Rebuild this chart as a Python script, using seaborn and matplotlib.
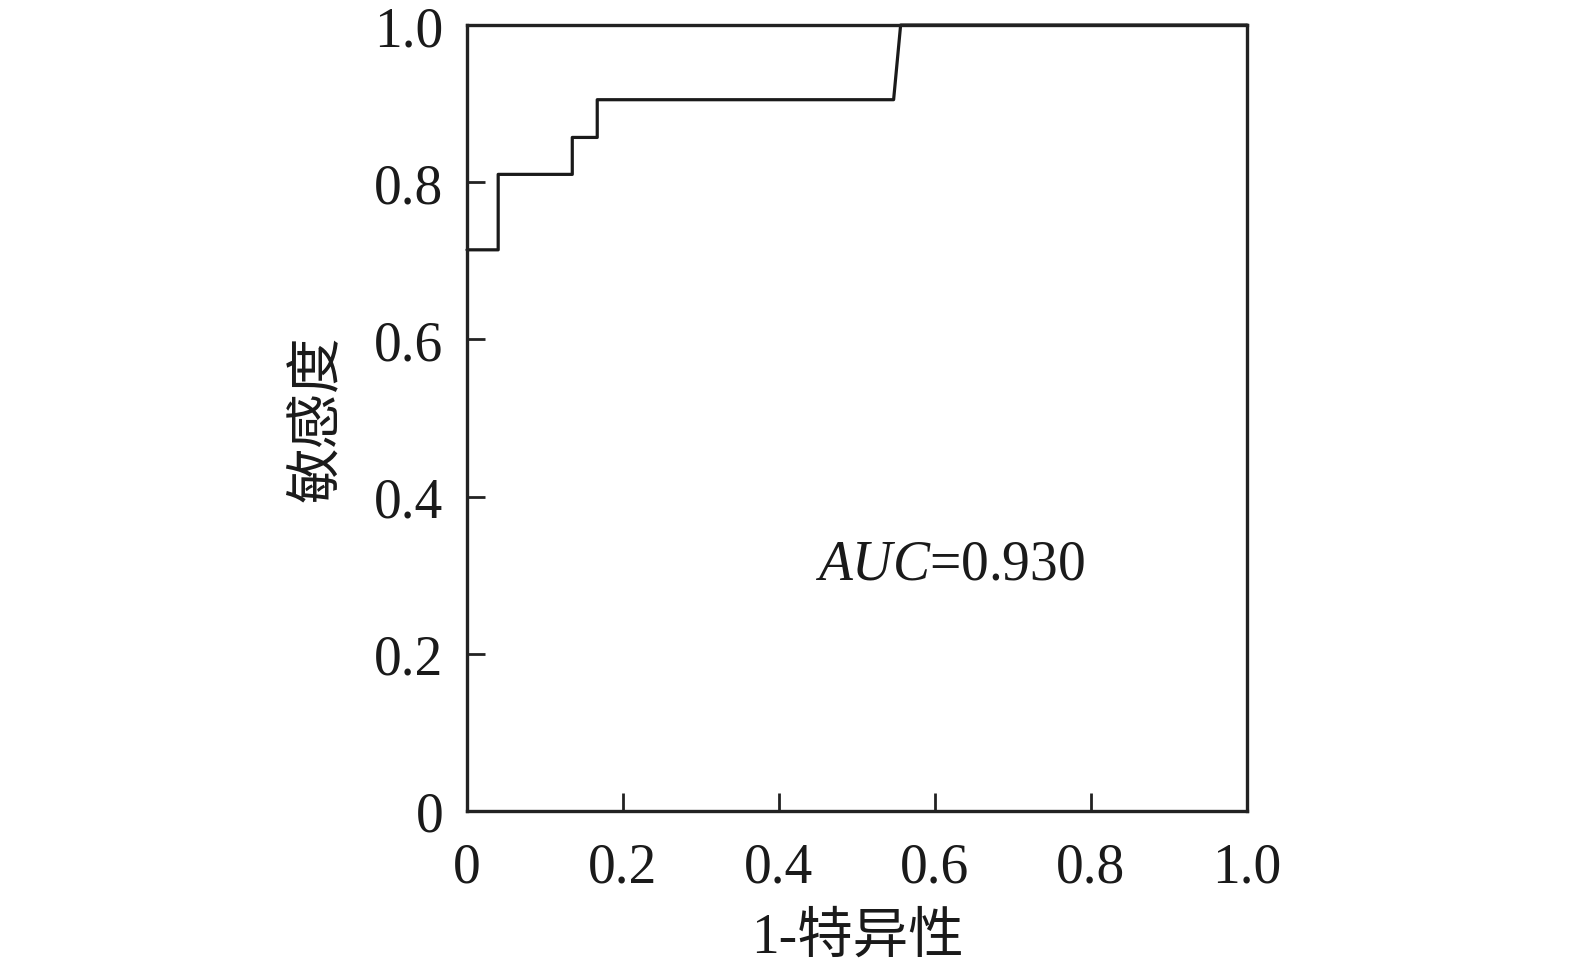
import numpy as np
import pandas as pd
import seaborn as sns
import matplotlib.pyplot as plt

# ROC points (1 - specificity, sensitivity)
fpr = [0.0, 0.040, 0.040, 0.135, 0.135, 0.167, 0.167, 0.547, 0.556, 1.0]
tpr = [0.714, 0.714, 0.810, 0.810, 0.857, 0.857, 0.905, 0.905, 1.0, 1.0]
auc_value = 0.930
xticks = [0, 0.2, 0.4, 0.6, 0.8, 1.0]
xticklabels = ['0', '0.2', '0.4', '0.6', '0.8', '1.0']
yticks = [0, 0.2, 0.4, 0.6, 0.8, 1.0]
yticklabels = ['0', '0.2', '0.4', '0.6', '0.8', '1.0']

roc = pd.DataFrame({'fpr': fpr, 'tpr': tpr})

sns.set_style('ticks')
plt.rcParams['font.family'] = ['Liberation Serif', 'Noto Sans CJK SC']
plt.rcParams['mathtext.fontset'] = 'custom'
plt.rcParams['mathtext.rm'] = 'Liberation Serif'
plt.rcParams['mathtext.it'] = 'Liberation Serif:italic'

fig = plt.figure(figsize=(15.75, 9.79), dpi=100)
ax = fig.add_axes([0.2965, 0.1706, 0.7917 - 0.2965, 0.9734 - 0.1706])

sns.lineplot(data=roc, x='fpr', y='tpr', sort=False, estimator=None,
             color='#1a1a1a', lw=2.3, ax=ax, clip_on=False)

ax.set_xlim(0, 1.0)
ax.set_ylim(0, 1.0)
ax.set_xticks(xticks)
ax.set_xticklabels(xticklabels)
ax.set_yticks(yticks)
ax.set_yticklabels(yticklabels)

for s in ax.spines.values():
    s.set_linewidth(2.4)
    s.set_color('#222222')

ax.tick_params(axis='both', direction='in', length=13, width=2, color='#222222',
               labelsize=40, labelcolor='#1a1a1a')
ax.tick_params(axis='x', pad=22)
ax.tick_params(axis='y', pad=17)

ax.set_xlabel('1-特异性', fontsize=40, color='#1a1a1a', labelpad=13)
ax.set_ylabel('敏感度', fontsize=40, color='#1a1a1a', labelpad=22)

ax.text(0.446, 0.314, r'$AUC$=' + f'{auc_value:.3f}', fontsize=40,
        color='#1a1a1a', ha='left', va='center', transform=ax.transData)

fig.savefig('out.png', dpi=100)
